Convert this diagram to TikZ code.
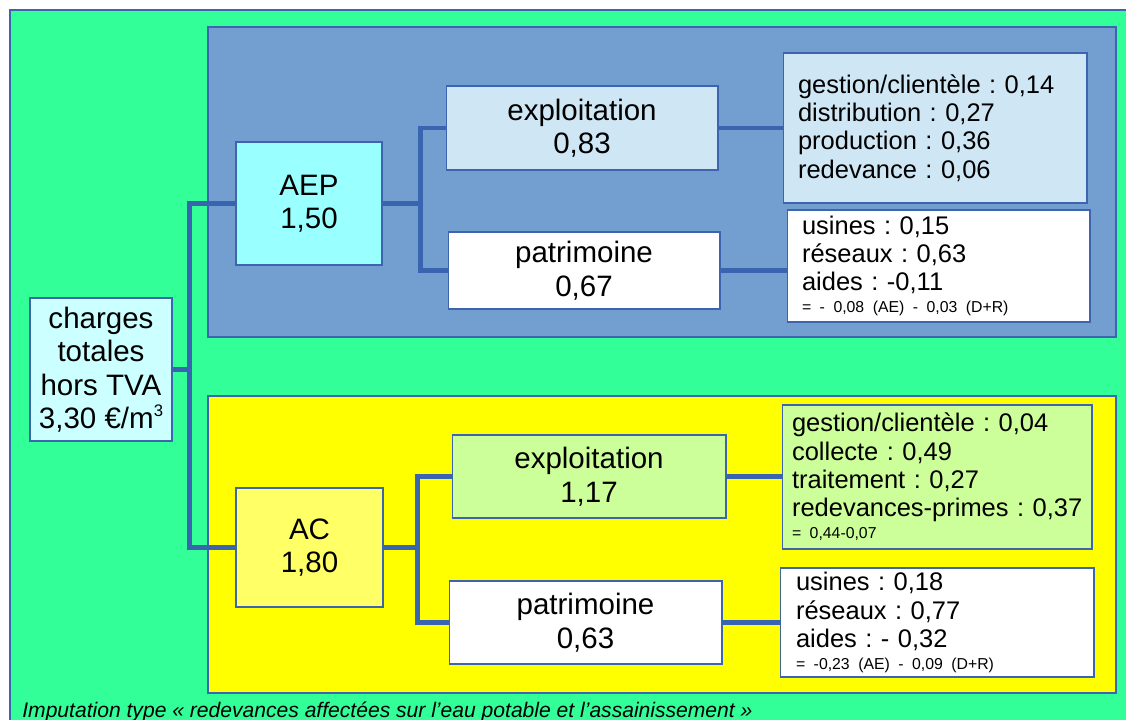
\documentclass[tikz,border=0pt]{standalone}
\usepackage{fontspec}
\setmainfont{Liberation Sans}
\setsansfont{Liberation Sans}
\usepackage{tikz}
\usetikzlibrary{positioning}
\frenchspacing
\definecolor{bggreen}{RGB}{51,255,153}
\definecolor{panelblue}{RGB}{114,159,207}
\definecolor{panelyellow}{RGB}{255,255,0}
\definecolor{edgeblue}{RGB}{60,100,175}
\definecolor{linkblue}{RGB}{56,100,176}
\definecolor{rootfill}{RGB}{204,255,255}
\definecolor{aepfill}{RGB}{153,255,255}
\definecolor{acfill}{RGB}{255,255,102}
\definecolor{expaepfill}{RGB}{207,231,245}
\definecolor{expacfill}{RGB}{204,255,153}
\tikzset{
  panel/.style={draw=edgeblue, line width=0.6pt},
  bigbox/.style={draw=edgeblue, line width=0.6pt, align=center, inner sep=0pt,
    font=\fontsize{16.8}{19}\selectfont},
  detbox/.style={draw=edgeblue, line width=0.6pt, align=left, inner ysep=0pt,
    font=\fontsize{14.5}{16.1}\selectfont},
  link/.style={draw=linkblue, line width=2.3pt},
}
\newcommand{\smallline}[1]{\mbox{\fontsize{9}{11}\selectfont #1}}
\newcommand{\cubic}{\raisebox{0.75ex}{\fontsize{9.5}{10}\selectfont 3}}

\begin{document}
\begin{tikzpicture}[x=0.02cm, y=-0.02cm]
\useasboundingbox (0,0) rectangle (1126,720);
% background and panels
\fill[white] (0,0) rectangle (1126,720);
\fill[bggreen] (10,10) rectangle (1126,720);
\draw[edgeblue, line width=0.6pt] (1126,10) -- (10,10) -- (10,720);
\filldraw[panel, fill=panelblue] (208,27) rectangle (1116,337);
\filldraw[panel, fill=panelyellow] (208,396) rectangle (1116,693);

% boxes
\node[bigbox, fill=rootfill, minimum width=2.84cm, minimum height=2.86cm] (root) at (101,369.5)
  {charges\\totales\\hors TVA\\3,30 €/m\cubic};
\node[bigbox, fill=aepfill, minimum width=2.92cm, minimum height=2.46cm] (aep) at (309,203.5) {AEP\\1,50};
\node[bigbox, fill=acfill, minimum width=2.94cm, minimum height=2.38cm] (ac) at (309.5,547.5) {AC\\1,80};
\node[bigbox, fill=expaepfill, minimum width=5.44cm, minimum height=1.68cm] (expaep) at (582,128) {exploitation\\0,83};
\node[bigbox, fill=white, minimum width=5.44cm, minimum height=1.54cm] (pataep) at (584,270.5) {patrimoine\\0,67};
\node[bigbox, fill=expacfill, minimum width=5.48cm, minimum height=1.66cm] (expac) at (589,476.5) {exploitation\\1,17};
\node[bigbox, fill=white, minimum width=5.46cm, minimum height=1.66cm] (patac) at (585.5,622.5) {patrimoine\\0,63};

% detail boxes
\node[detbox, fill=expaepfill, inner xsep=0.3cm, text width=5.48cm, minimum height=3cm] (detexpaep) at (935,128)
  {gestion/clientèle : 0,14\\distribution : 0,27\\production : 0,36\\redevance : 0,06};
\node[detbox, fill=white, inner xsep=0.3cm, text width=5.46cm, minimum height=2.24cm] (detpataep) at (938.5,266)
  {usines : 0,15\\réseaux : 0,63\\aides : -0,11\\[-3.5pt]\smallline{= - 0,08 (AE) - 0,03 (D+R)}};
\node[detbox, fill=expacfill, inner xsep=0.2cm, text width=5.8cm, minimum height=2.88cm] (detexpac) at (937,477)
  {gestion/clientèle : 0,04\\collecte : 0,49\\traitement : 0,27\\\mbox{redevances-primes : 0,37}\\[-3.5pt]\smallline{= 0,44-0,07}};
\node[detbox, fill=white, inner xsep=0.32cm, text width=5.64cm, minimum height=2.18cm] (detpatac) at (937,622.5)
  {usines : 0,18\\réseaux : 0,77\\aides : - 0,32\\[-3.5pt]\smallline{= -0,23 (AE) - 0,09 (D+R)}};

% connectors
\draw[link] (root.east) -- ++(17,0) coordinate (fork0);
\draw[link] (aep.west) -| (fork0) |- (ac.west);
\draw[link] (aep.east) -- ++(38,0) coordinate (fork1);
\draw[link] (expaep.west) -| (fork1) |- (pataep.west);
\draw[link] (ac.east) -- ++(34,0) coordinate (fork2);
\draw[link] (expac.west) -| (fork2) |- (patac.west);
\draw[link] (expaep.east) -- (expaep.east -| detexpaep.west);
\draw[link] (pataep.east) -- (pataep.east -| detpataep.west);
\draw[link] (expac.east) -- (expac.east -| detexpac.west);
\draw[link] (patac.east) -- (patac.east -| detpatac.west);

% caption
\node[anchor=base west, inner sep=0pt, font=\fontsize{12}{14}\selectfont\itshape] (caption) at (22,717)
  {Imputation type « redevances affectées sur l’eau potable et l’assainissement »};
\end{tikzpicture}
\end{document}
